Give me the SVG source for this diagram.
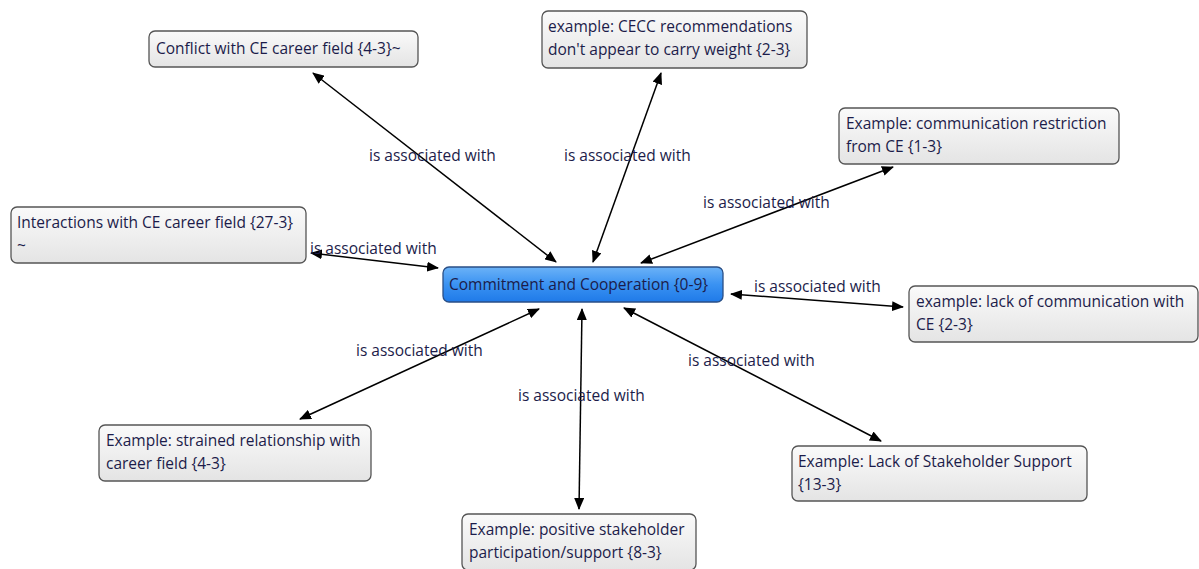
<svg xmlns="http://www.w3.org/2000/svg" width="1199" height="569" viewBox="0 0 1199 569">
<defs>
<linearGradient id="gray" x1="0" y1="0" x2="0" y2="1">
<stop offset="0" stop-color="#fafafa"/>
<stop offset="1" stop-color="#e4e4e4"/>
</linearGradient>
<linearGradient id="blue" x1="0" y1="0" x2="0" y2="1">
<stop offset="0" stop-color="#6bb2f7"/>
<stop offset="0.5" stop-color="#3a92f2"/>
<stop offset="1" stop-color="#1f7ae8"/>
</linearGradient>
<marker id="ah" viewBox="0 0 12 10" refX="11" refY="5" markerWidth="12" markerHeight="10" markerUnits="userSpaceOnUse" orient="auto-start-reverse">
<path d="M0,0 L12,5 L0,10 Z" fill="#000"/>
</marker>
<style>
.n{fill:url(#gray);stroke:#555;stroke-width:1.3}
.c{fill:url(#blue);stroke:#2a4f86;stroke-width:1.3}
.t{font-family:"Open Sans","Liberation Sans",sans-serif;font-size:15.5px;fill:#1c1c4a}
.l{font-family:"Open Sans","Liberation Sans",sans-serif;font-size:15.5px;fill:#1c1c4a}
.e{stroke:#000;stroke-width:1.5;fill:none;marker-start:url(#ah);marker-end:url(#ah)}
</style>
</defs>
<rect width="1199" height="569" fill="#fff"/>
<g id="connectors">
<line class="e" x1="313" y1="73" x2="556" y2="262"/>
<line class="e" x1="661" y1="73" x2="593" y2="262"/>
<line class="e" x1="893" y1="167" x2="641" y2="263"/>
<line class="e" x1="311" y1="253" x2="438" y2="268"/>
<line class="e" x1="731" y1="294" x2="903" y2="307"/>
<line class="e" x1="300" y1="419" x2="539" y2="309"/>
<line class="e" x1="579" y1="509" x2="582" y2="309"/>
<line class="e" x1="624" y1="308" x2="881" y2="441"/>
<text class="l" x="369" y="161">is associated with</text>
<text class="l" x="564" y="161">is associated with</text>
<text class="l" x="703" y="208">is associated with</text>
<text class="l" x="310" y="254">is associated with</text>
<text class="l" x="754" y="292">is associated with</text>
<text class="l" x="356" y="356">is associated with</text>
<text class="l" x="518" y="401">is associated with</text>
<text class="l" x="688" y="366">is associated with</text>
</g>
<g id="n1"><rect class="n" x="149" y="31" width="269" height="36" rx="6"/><text class="t" x="156" y="54">Conflict with CE career field {4-3}~</text></g>
<g id="n2"><rect class="n" x="542" y="11" width="265" height="57" rx="6"/><text class="t" x="548" y="32">example: CECC recommendations</text><text class="t" x="548" y="55">don't appear to carry weight {2-3}</text></g>
<g id="n3"><rect class="n" x="839" y="108" width="280" height="56" rx="6"/><text class="t" x="846" y="129">Example: communication restriction</text><text class="t" x="846" y="152">from CE {1-3}</text></g>
<g id="n4"><rect class="n" x="11" y="207" width="295" height="56" rx="6"/><text class="t" x="17" y="228">Interactions with CE career field {27-3}</text><text class="t" x="17" y="251">~</text></g>
<g id="n5"><rect class="c" x="443" y="267" width="280" height="35" rx="6"/><text class="t" x="449" y="290">Commitment and Cooperation {0-9}</text></g>
<g id="n6"><rect class="n" x="909" y="286" width="289" height="56" rx="6"/><text class="t" x="916" y="307">example: lack of communication with</text><text class="t" x="916" y="330">CE {2-3}</text></g>
<g id="n7"><rect class="n" x="99" y="425" width="272" height="56" rx="6"/><text class="t" x="106" y="446">Example: strained relationship with</text><text class="t" x="106" y="469">career field {4-3}</text></g>
<g id="n8"><rect class="n" x="792" y="446" width="295" height="55" rx="6"/><text class="t" x="798" y="467">Example: Lack of Stakeholder Support</text><text class="t" x="798" y="490">{13-3}</text></g>
<g id="n9"><rect class="n" x="462" y="514" width="234" height="56" rx="6"/><text class="t" x="469" y="535">Example: positive stakeholder</text><text class="t" x="469" y="558">participation/support {8-3}</text></g>
</svg>
